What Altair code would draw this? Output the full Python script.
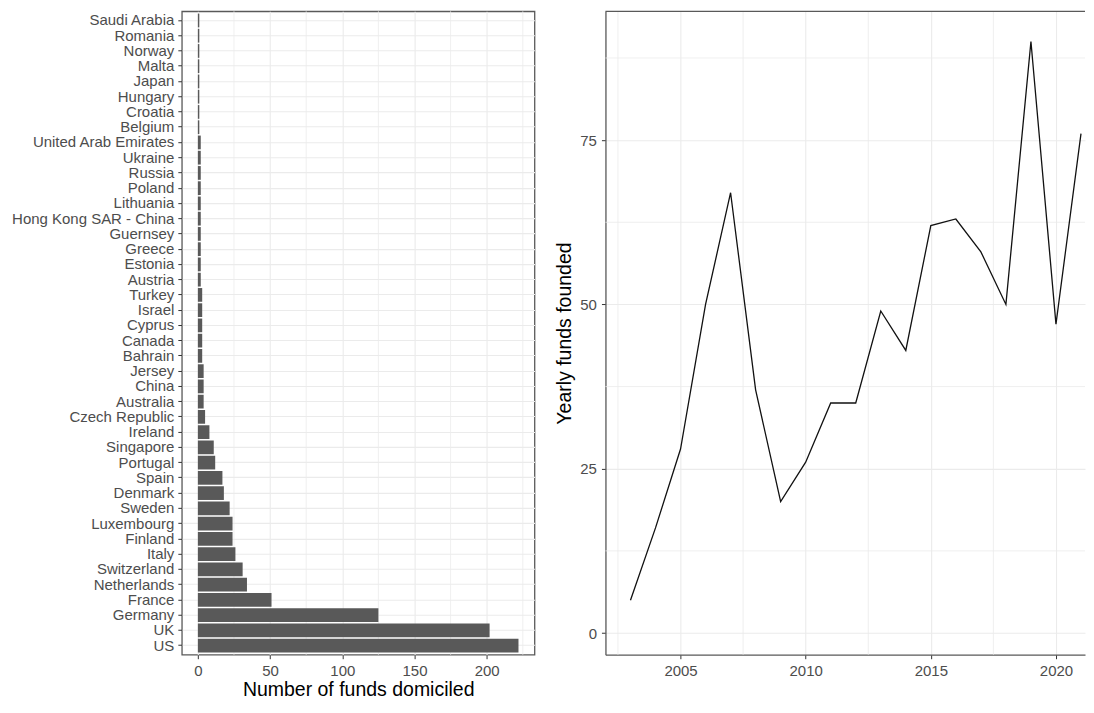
import altair as alt
import pandas as pd

# ---- Left panel data: funds domiciled per country (top to bottom as displayed)
countries = [
    "Saudi Arabia", "Romania", "Norway", "Malta", "Japan", "Hungary", "Croatia",
    "Belgium", "United Arab Emirates", "Ukraine", "Russia", "Poland", "Lithuania",
    "Hong Kong SAR - China", "Guernsey", "Greece", "Estonia", "Austria", "Turkey",
    "Israel", "Cyprus", "Canada", "Bahrain", "Jersey", "China", "Australia",
    "Czech Republic", "Ireland", "Singapore", "Portugal", "Spain", "Denmark",
    "Sweden", "Luxembourg", "Finland", "Italy", "Switzerland", "Netherlands",
    "France", "Germany", "UK", "US",
]
funds = [
    1, 1, 1, 1, 1, 1, 1,
    1, 2, 2, 2, 2, 2,
    2, 2, 2, 2, 2, 3,
    3, 3, 3, 3, 4, 4, 4,
    5, 8, 11, 12, 17, 18,
    22, 24, 24, 26, 31, 34,
    51, 125, 202, 222,
]
x_ticks_left = [0, 50, 100, 150, 200]
x_minor_left = [25, 75, 125, 175, 225]

# ---- Right panel data: yearly funds founded
years = [2003, 2004, 2005, 2006, 2007, 2008, 2009, 2010, 2011, 2012,
         2013, 2014, 2015, 2016, 2017, 2018, 2019, 2020, 2021]
founded = [5, 16, 28, 50, 67, 37, 20, 26, 35, 35,
           49, 43, 62, 63, 58, 50, 90, 47, 76]
x_ticks_right = [2005, 2010, 2015, 2020]
x_minor_right = [2002.5, 2007.5, 2012.5, 2017.5]
y_ticks_right = [0, 25, 50, 75]
y_minor_right = [12.5, 37.5, 62.5, 87.5]

GRID = "#EBEBEB"
LABEL = "#4D4D4D"
TICK = "#333333"
BORDER = "#595959"
FONT = "Liberation Sans"
PLOT_H = 644

bar_df = pd.DataFrame({"country": countries, "funds": funds})
line_df = pd.DataFrame({"year": years, "n": founded})

# ---------------- Left chart ----------------
xscale_l = alt.Scale(domain=[-11.1, 233.1], nice=False)
yscale_l = alt.Scale(paddingInner=0.1, paddingOuter=0.15)
xaxis_l = alt.Axis(
    values=x_ticks_left, title="Number of funds domiciled",
    grid=True, gridColor=GRID, gridWidth=1.1, domain=False,
    tickColor=TICK, tickSize=4, labelPadding=5,
    labelFontSize=15, labelColor=LABEL,
    titleFontSize=19.5, titleFontWeight="normal", titleColor="#000000",
    titlePadding=2,
)

minor_l = alt.Chart(pd.DataFrame({"m": x_minor_left})).mark_rule(
    color=GRID, strokeWidth=0.8
).encode(x=alt.X("m:Q", scale=xscale_l, axis=xaxis_l))

bars = alt.Chart(bar_df).mark_bar(color="#595959").encode(
    x=alt.X("funds:Q", scale=xscale_l, axis=xaxis_l),
    x2=alt.datum(0),
    y=alt.Y(
        "country:N", sort=countries, scale=yscale_l,
        axis=alt.Axis(
            title=None, bandPosition=0.5, grid=True, gridColor=GRID, gridWidth=1.1,
            domain=False, tickColor=TICK, tickSize=4, labelPadding=4,
            labelFontSize=15, labelColor=LABEL,
        ),
    ),
)

left = alt.layer(minor_l, bars).properties(width=353, height=PLOT_H)

# ---------------- Right chart (panel is cut off at the right edge) ----------------
xscale_r = alt.Scale(domain=[2002.0, 2021.16], nice=False, zero=False)
yscale_r = alt.Scale(domain=[-3.3, 94.6], nice=False, zero=False)
xaxis_r = alt.Axis(
    values=x_ticks_right, format="d", title=None,
    grid=True, gridColor=GRID, gridWidth=1.1,
    domain=True, domainColor=BORDER, domainWidth=1.3,
    tickColor=TICK, tickSize=4, labelPadding=5,
    labelFontSize=15, labelColor=LABEL,
)
yaxis_r = alt.Axis(
    values=y_ticks_right, title="Yearly funds founded",
    grid=True, gridColor=GRID, gridWidth=1.1,
    domain=True, domainColor=BORDER, domainWidth=1.3,
    tickColor=TICK, tickSize=4, labelPadding=5,
    labelFontSize=15, labelColor=LABEL,
    titleFontSize=19.5, titleFontWeight="normal", titleColor="#000000",
    titlePadding=5,
)

minor_rx = alt.Chart(pd.DataFrame({"m": x_minor_right})).mark_rule(
    color=GRID, strokeWidth=0.8
).encode(x=alt.X("m:Q", scale=xscale_r, axis=xaxis_r))
minor_ry = alt.Chart(pd.DataFrame({"m": y_minor_right})).mark_rule(
    color=GRID, strokeWidth=0.8
).encode(y=alt.Y("m:Q", scale=yscale_r, axis=yaxis_r))

line = alt.Chart(line_df).mark_line(color="#111111", strokeWidth=1.3).encode(
    x=alt.X("year:Q", scale=xscale_r, axis=xaxis_r),
    y=alt.Y("n:Q", scale=yscale_r, axis=yaxis_r),
)

top_border = alt.Chart(pd.DataFrame({"b": [0]})).mark_rule(
    color=BORDER, strokeWidth=1.3
).encode(y=alt.value(0))

right = alt.layer(minor_rx, minor_ry, line, top_border).properties(
    width=480, height=PLOT_H, view=alt.ViewBackground(stroke=None)
)

chart = (
    alt.hconcat(left, right, spacing=19)
    .properties(padding={"left": 2, "top": 1, "right": 0, "bottom": 0})
    .configure(font=FONT)
    .configure_view(stroke=BORDER, strokeWidth=1.3)
)

chart.save("out.html", embed_options={"renderer": "svg", "actions": False})
